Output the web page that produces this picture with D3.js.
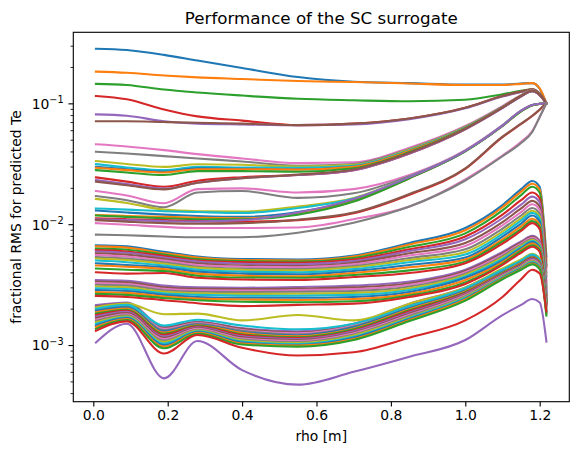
<!DOCTYPE html>
<html>
<head>
<meta charset="utf-8">
<script src="https://cdn.jsdelivr.net/npm/d3@7"></script>
<style>
  body { margin: 0; background: #fff; }
  text { font-family: "DejaVu Sans", sans-serif; fill: #000; }
</style>
</head>
<body>
<svg id="chart" width="578" height="455"></svg>
<script>
// rho of each sample [m]
const rho = [0.007, 0.09, 0.19, 0.28, 0.4, 0.55, 0.7, 0.85, 1.0, 1.1, 1.15, 1.18, 1.2, 1.218];

// fractional RMS, in units of 1e-3, one row per run
const coreRuns = [
  [283, 276, 252, 226, 196, 165, 151, 147, 143, 143, 146, 147, 132, 100],
  [183, 179, 170, 164, 159, 153, 150, 146, 142, 142, 145, 147, 133, 100],
  [145, 142, 130, 123, 116, 109, 106, 104, 107, 119, 127, 131, 120, 100],
  [115, 108, 89, 78, 72, 66, 68, 75, 92, 115, 125, 130, 120, 100],
  [81, 79, 71, 68, 67, 66, 67, 74, 91, 114, 124, 129, 119, 100],
  [71, 71, 70, 69, 68, 66, 68, 75, 92, 115, 125, 131, 121, 100]
];

const midRuns = [
  [45.8, 44, 41, 38, 35, 32, 32.5, 43, 65, 95, 117, 128, 118, 100],
  [39.8, 38.5, 36.6, 35, 33, 30.5, 31.5, 42, 64, 94, 116, 127, 118, 100],
  [33.3, 31.5, 29.8, 31.3, 31, 30, 31, 41.5, 63.5, 93, 116, 127, 118, 100],
  [31.4, 29.5, 28, 29.8, 29.5, 29.3, 30.5, 41, 63, 93, 116, 127, 118, 100],
  [29.8, 28.5, 27.2, 29, 28.8, 28.5, 30, 40.5, 62.5, 92.5, 115, 127, 118, 100],
  [29.3, 28, 26.8, 28.5, 28.5, 28.3, 29.8, 40.3, 62.3, 92.5, 115, 127, 118, 100],
  [28, 26.8, 25.5, 27.5, 27.5, 27.2, 29, 39.5, 62, 92, 115, 126, 118, 100],
  [24.4, 22.5, 20.4, 22.9, 24.5, 25.5, 28, 38.5, 61, 92, 115, 126, 117, 100],
  [23.2, 21.5, 19.7, 22, 24, 25.5, 28, 38.5, 61, 91.5, 114, 126, 117, 100],
  [22.5, 21, 19.4, 22, 24, 25.7, 28.3, 39, 61.5, 92, 115, 127, 118, 100],
  [18.8, 17.3, 14.9, 19.5, 19.8, 18.3, 19.5, 25.5, 41, 66, 87, 97, 99, 100],
  [17.1, 15.8, 13.8, 18.3, 18.8, 16.5, 18, 25, 40.5, 65.5, 87, 97, 99, 100],
  [16.2, 15, 13.2, 12.8, 12.7, 14, 16.5, 24.5, 40.5, 65.5, 86.5, 96.5, 99, 100],
  [13.5, 13.2, 12.8, 12.6, 12.4, 13.6, 16.3, 24.5, 40.5, 65.5, 86.5, 96.5, 99, 100],
  [13, 12.5, 12, 11.7, 11.5, 12.6, 15.8, 24.2, 40.3, 65.3, 86.3, 96.5, 99, 100],
  [11.9, 11.7, 11.5, 11.3, 11.2, 12.2, 15.5, 24, 40.2, 65, 86, 96.3, 99, 100],
  [11.8, 11.5, 11.2, 11, 11, 12, 15.4, 24, 40, 65, 86, 96.3, 99, 100],
  [11.2, 11, 10.8, 10.6, 10.5, 10.8, 12.3, 17.5, 28.7, 52.5, 67.5, 78.5, 88.5, 100],
  [11, 10.8, 10.6, 10.5, 10.8, 12.5, 16.2, 24.5, 40.5, 65.5, 87, 97, 99, 100],
  [10.8, 10.5, 10.2, 10.1, 10.2, 10.9, 12.5, 17.8, 29, 53, 68, 79, 89, 100],
  [10.2, 9.9, 9.5, 9.3, 9.3, 9.4, 11, 14, 23.5, 37, 48, 59, 77, 100],
  [8.2, 8.1, 7.9, 7.8, 7.8, 8.5, 10.3, 14, 23, 36.5, 47, 58, 77, 100]
];

const edgeRunsA = [
  [6.7, 6.55, 5.9, 5.4, 5.15, 5.1, 5.5, 7.0, 9.3, 14.4, 19.5, 22.8, 20.4, 5.4],
  [6.55, 6.4, 5.75, 5.3, 5.05, 5.0, 5.4, 6.8, 8.9, 13.8, 18.6, 21.6, 19.4, 5.0],
  [6.3, 6.15, 5.6, 5.15, 4.95, 4.9, 5.25, 6.5, 8.4, 13.0, 17.4, 20.4, 18.2, 4.6],
  [6.1, 5.95, 5.45, 5.0, 4.85, 4.8, 5.1, 6.2, 7.9, 12.0, 15.8, 18.3, 16.4, 4.4],
  [5.95, 5.8, 5.3, 4.9, 4.7, 4.65, 4.95, 6.0, 7.5, 11.2, 14.5, 16.9, 15.1, 4.0],
  [5.75, 5.6, 5.15, 4.75, 4.55, 4.5, 4.8, 5.75, 7.0, 10.4, 13.5, 15.6, 14.0, 3.7],
  [5.55, 5.4, 5.0, 4.6, 4.45, 4.4, 4.65, 5.5, 6.6, 9.8, 12.6, 14.6, 13.1, 3.4],
  [5.35, 5.2, 4.85, 4.45, 4.3, 4.25, 4.5, 5.25, 6.2, 9.2, 11.8, 13.6, 12.2, 3.2],
  [5.2, 5.05, 4.7, 4.35, 4.2, 4.15, 4.4, 5.05, 5.9, 8.7, 11.2, 12.9, 11.6, 3.0],
  [5.0, 4.85, 4.55, 4.2, 4.05, 4.0, 4.25, 4.85, 5.6, 8.3, 10.7, 12.4, 11.1, 2.8],
  [4.75, 4.6, 4.4, 4.05, 3.9, 3.85, 4.1, 4.6, 5.3, 7.9, 10.1, 11.8, 10.5, 2.6],
  [4.55, 4.45, 4.25, 3.9, 3.75, 3.7, 3.95, 4.4, 5.1, 7.5, 9.6, 11.1, 9.9, 2.45],
  [4.3, 4.2, 4.1, 3.75, 3.62, 3.6, 3.8, 4.15, 4.9, 7.2, 9.1, 10.6, 9.5, 2.3],
  [4.0, 3.9, 3.95, 3.6, 3.48, 3.45, 3.65, 3.95, 4.75, 6.9, 8.8, 10.2, 9.1, 2.2]
];

const edgeRunsB = [
  [3.45, 3.4, 3.1, 3.0, 2.98, 3.02, 3.1, 3.35, 4.2, 5.9, 7.2, 8.0, 7.3, 3.1],
  [3.35, 3.3, 3.0, 2.92, 2.9, 2.93, 3.0, 3.25, 4.1, 5.75, 7.05, 7.85, 7.15, 2.9],
  [3.25, 3.2, 2.92, 2.84, 2.82, 2.85, 2.9, 3.15, 4.0, 5.6, 6.9, 7.7, 7.0, 2.75],
  [3.15, 3.1, 2.84, 2.76, 2.74, 2.76, 2.8, 3.05, 3.9, 5.45, 6.75, 7.55, 6.85, 2.6],
  [3.05, 3.0, 2.76, 2.68, 2.65, 2.66, 2.7, 2.95, 3.8, 5.3, 6.6, 7.4, 6.7, 2.5],
  [2.95, 2.9, 2.68, 2.6, 2.56, 2.56, 2.6, 2.85, 3.7, 5.15, 6.45, 7.25, 6.55, 2.45],
  [2.85, 2.8, 2.6, 2.5, 2.46, 2.46, 2.5, 2.75, 3.6, 5.0, 6.3, 7.1, 6.4, 2.4],
  [2.75, 2.7, 2.52, 2.42, 2.38, 2.36, 2.4, 2.65, 3.45, 4.85, 6.15, 6.9, 6.25, 2.3],
  [2.65, 2.6, 2.45, 2.35, 2.28, 2.26, 2.3, 2.57, 3.3, 4.7, 6.0, 6.7, 6.1, 2.25],
  [2.55, 2.5, 2.35, 2.22, 2.1, 2.15, 2.2, 2.5, 3.2, 4.6, 5.8, 6.5, 5.9, 2.2]
];

const edgeRunsC = [
  [2.14, 2.25, 1.42, 1.56, 1.38, 1.3, 1.5, 2.2, 3.0, 4.2, 5.0, 5.6, 5.1, 2.7],
  [2.08, 2.2, 1.39, 1.54, 1.36, 1.27, 1.47, 2.15, 2.95, 4.15, 4.95, 5.55, 5.05, 2.6],
  [2.02, 2.15, 1.36, 1.52, 1.33, 1.25, 1.45, 2.1, 2.9, 4.1, 4.9, 5.5, 5.0, 2.5],
  [1.97, 2.1, 1.33, 1.5, 1.31, 1.22, 1.42, 2.06, 2.86, 4.05, 4.85, 5.44, 4.95, 2.45],
  [2.05, 2.2, 1.8, 1.82, 1.6, 1.77, 1.6, 2.2, 3.0, 4.3, 5.1, 5.7, 5.2, 2.1],
  [2.0, 2.15, 1.45, 1.62, 1.45, 1.35, 1.5, 2.1, 2.95, 4.2, 5.0, 5.6, 5.1, 2.3],
  [1.92, 2.05, 1.3, 1.48, 1.28, 1.2, 1.4, 2.02, 2.82, 4.0, 4.8, 5.38, 4.9, 2.4],
  [1.87, 2.0, 1.27, 1.46, 1.26, 1.18, 1.37, 1.98, 2.78, 3.96, 4.75, 5.32, 4.85, 2.35],
  [1.82, 1.96, 1.24, 1.44, 1.23, 1.16, 1.35, 1.94, 2.74, 3.92, 4.7, 5.27, 4.8, 2.3],
  [1.77, 1.92, 1.21, 1.42, 1.21, 1.14, 1.32, 1.9, 2.7, 3.88, 4.65, 5.22, 4.75, 2.2],
  [1.72, 1.88, 1.18, 1.4, 1.18, 1.12, 1.3, 1.86, 2.66, 3.84, 4.6, 5.16, 4.7, 2.15],
  [1.67, 1.84, 1.15, 1.38, 1.16, 1.1, 1.27, 1.82, 2.62, 3.8, 4.55, 5.1, 4.65, 2.1],
  [1.62, 1.8, 1.12, 1.36, 1.13, 1.08, 1.25, 1.78, 2.58, 3.76, 4.5, 5.04, 4.6, 2.05],
  [1.58, 1.76, 1.09, 1.34, 1.11, 1.06, 1.22, 1.74, 2.54, 3.72, 4.45, 4.98, 4.55, 2.0],
  [1.54, 1.73, 1.06, 1.32, 1.09, 1.04, 1.2, 1.7, 2.5, 3.68, 4.4, 4.92, 4.5, 1.95],
  [1.5, 1.7, 1.03, 1.3, 1.07, 1.02, 1.17, 1.67, 2.46, 3.64, 4.35, 4.86, 4.45, 1.9],
  [1.45, 1.67, 1.0, 1.28, 1.05, 1.0, 1.15, 1.64, 2.42, 3.6, 4.3, 4.8, 4.4, 1.85],
  [1.41, 1.64, 0.97, 1.26, 1.03, 0.99, 1.12, 1.61, 2.38, 3.55, 4.25, 4.72, 4.32, 1.8],
  [1.36, 1.61, 0.94, 1.24, 1.01, 0.97, 1.1, 1.58, 2.33, 3.5, 4.2, 4.65, 4.25, 1.75],
  [1.31, 1.57, 0.85, 1.21, 0.95, 0.82, 0.87, 1.15, 1.6, 2.5, 3.5, 4.2, 3.9, 1.9]
];

const lowestRun = [1.05, 1.5, 0.53, 1.08, 0.62, 0.47, 0.6, 0.8, 1.1, 1.77, 2.15, 2.4, 2.25, 1.07];

const xTicks = [0, 0.2, 0.4, 0.6, 0.8, 1.0, 1.2];
const yExponents = [-3, -2, -1];

const titre = "Performance of the SC surrogate";
const xTitre = "rho [m]";
const yTitre = "fractional RMS for predicted Te";

// cadre des axes
const gauche = 73.3, droite = 569.3, haut = 32.3, bas = 401.7;

const svg = d3.select("#chart");

const x = d3.scaleLinear()
    .domain([-0.0538, 1.2796])
    .range([gauche, droite]);

const y = d3.scaleLog()
    .domain([Math.pow(10, -3.469), Math.pow(10, -0.412)])
    .range([bas, haut]);

const couleurs = d3.schemeCategory10;

const ligne = d3.line()
    .x((d, i) => x(rho[i]))
    .y(d => y(d * 1e-3))
    .curve(d3.curveMonotoneX);

svg.append("clipPath").attr("id", "zone")
    .append("rect")
    .attr("x", gauche).attr("y", haut)
    .attr("width", droite - gauche).attr("height", bas - haut);

const plot = svg.append("g").attr("clip-path", "url(#zone)");

function traceGroupe(runs) {
    runs.forEach((run, i) => {
        plot.append("path")
            .attr("d", ligne(run))
            .attr("fill", "none")
            .attr("stroke", couleurs[i % 10])
            .attr("stroke-width", 2.08)
            .attr("stroke-linejoin", "round")
            .attr("stroke-linecap", "square");
    });
}

traceGroupe(coreRuns.concat(midRuns));
traceGroupe(edgeRunsA.concat(edgeRunsB, edgeRunsC, [lowestRun]));

// axe x
const axeX = svg.append("g")
    .attr("transform", "translate(0," + bas + ")")
    .call(d3.axisBottom(x).tickValues(xTicks).tickFormat(d3.format(".1f"))
        .tickSize(4.86).tickPadding(3.5));
axeX.select(".domain").remove();
axeX.selectAll("line").attr("stroke", "#000").attr("stroke-width", 1.11);
axeX.selectAll("text")
    .style("font-family", "DejaVu Sans")
    .style("font-size", "13.9px")
    .attr("fill", "#000");

// axe y (log) : graduations mineures puis majeures
const mineures = [];
for (let e = -4; e <= -1; e++) {
    for (let k = 2; k <= 9; k++) {
        const v = k * Math.pow(10, e);
        if (v >= y.domain()[0] && v <= y.domain()[1]) mineures.push(v);
    }
}
const axeYmin = svg.append("g")
    .attr("transform", "translate(" + gauche + ",0)")
    .call(d3.axisLeft(y).tickValues(mineures).tickFormat("").tickSize(2.78));
axeYmin.select(".domain").remove();
axeYmin.selectAll("line").attr("stroke", "#000").attr("stroke-width", 0.83);

const majeures = yExponents.map(e => Math.pow(10, e));
const axeY = svg.append("g")
    .attr("transform", "translate(" + gauche + ",0)")
    .call(d3.axisLeft(y).tickValues(majeures).tickFormat("").tickSize(4.86));
axeY.select(".domain").remove();
axeY.selectAll("line").attr("stroke", "#000").attr("stroke-width", 1.11);

yExponents.forEach(e => {
    const t = svg.append("text")
        .attr("x", gauche - 9.7)
        .attr("y", y(Math.pow(10, e)) + 5.4)
        .attr("text-anchor", "end")
        .style("font-size", "13.9px");
    t.append("tspan").text("10");
    t.append("tspan")
        .attr("dy", -5.6)
        .style("font-size", "9.7px")
        .text("\u2212" + Math.abs(e));
});

// cadre
svg.append("rect")
    .attr("x", gauche).attr("y", haut)
    .attr("width", droite - gauche).attr("height", bas - haut)
    .attr("fill", "none")
    .attr("stroke", "#000")
    .attr("stroke-width", 1.11);

// titres
svg.append("text")
    .attr("x", (gauche + droite) / 2).attr("y", 24)
    .attr("text-anchor", "middle")
    .style("font-size", "16.7px")
    .text(titre);

svg.append("text")
    .attr("x", (gauche + droite) / 2).attr("y", 441)
    .attr("text-anchor", "middle")
    .style("font-size", "13.9px")
    .text(xTitre);

svg.append("text")
    .attr("transform", "translate(21," + (haut + bas) / 2 + ") rotate(-90)")
    .attr("text-anchor", "middle")
    .style("font-size", "13.9px")
    .text(yTitre);
</script>
</body>
</html>
